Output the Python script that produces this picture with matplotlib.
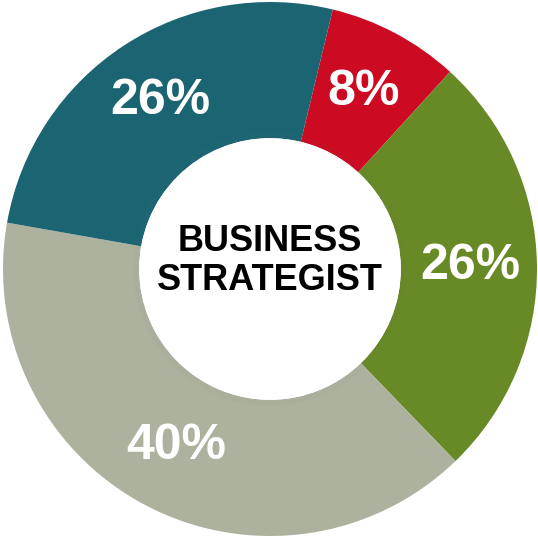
import matplotlib.pyplot as plt
from matplotlib.patches import Circle

labels = ['Red', 'Green', 'Gray', 'Teal']
shares = [8, 26, 40, 26]
colors = ['#CC0A22', '#678A26', '#ADB29F', '#1B6573']

plt.rcParams['font.family'] = ['Liberation Sans', 'DejaVu Sans']

fig = plt.figure(figsize=(5.38, 5.45), dpi=100)
# axes sized so the ring fills the image like the reference
ax = fig.add_axes([3 / 538, (545 - 269 - 267) / 545, 534 / 538, 534 / 545])

inner = 0.49
wedges, texts, autotexts = ax.pie(
    shares, colors=colors, startangle=76.4, counterclock=False,
    radius=1, wedgeprops=dict(width=1 - inner, linewidth=0),
    autopct='%d%%', pctdistance=0.75,
    textprops=dict(color='white', fontsize=36, fontweight='bold'))

# soft shadow around the hole
for k in range(5):
    ax.add_patch(Circle((0, 0), inner + 0.005 * k, facecolor='none',
                        edgecolor='#777777', linewidth=1.2, alpha=0.035))
ax.add_patch(Circle((0, 0), inner, facecolor='white', edgecolor='none'))

ax.text(0, 0.03, 'BUSINESS\nSTRATEGIST', ha='center', va='center',
        fontsize=26, fontweight='bold', color='black', linespacing=1.15)

ax.set_xlim(-1, 1)
ax.set_ylim(-1, 1)
ax.axis('off')

fig.savefig('out.png', dpi=100)
